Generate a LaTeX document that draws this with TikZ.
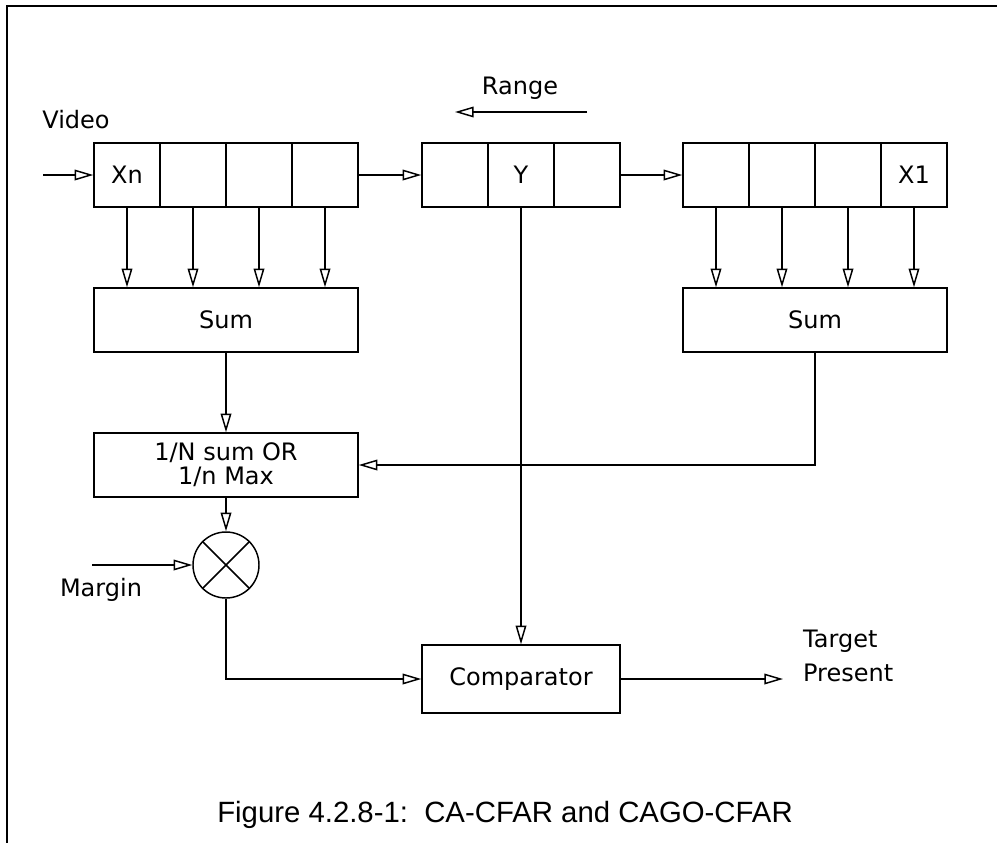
\documentclass[tikz,border=0pt]{standalone}
\usepackage{fontspec}
\setmainfont{DejaVu Sans}
\newfontfamily\capfont{Liberation Sans}
\usetikzlibrary{arrows.meta,positioning}

\begin{document}
\begin{tikzpicture}[
    x=0.75pt, y=-0.75pt,
    font=\fontsize{18}{18}\selectfont,
    line width=1.1pt,
    >={Triangle[open, length=14pt, width=8pt]},
    cell/.style={draw, minimum width=49.5pt, minimum height=48pt, inner sep=0pt},
    block/.style={draw, minimum width=198pt, minimum height=48pt, align=center, inner sep=0pt},
    mixer/.style={circle, draw, minimum size=49.5pt, inner sep=0pt}
]
\useasboundingbox (0,0) rectangle (997,843);
\draw[line width=1.8pt] (7,843) -- (7,6) -- (997,6);

\foreach \i in {1,...,4} \node[cell] (l\i) at ({61+66*\i},175) {};
\foreach \i in {1,2,3} \node[cell] (m\i) at ({389+66*\i},175) {};
\foreach \i in {1,...,4} \node[cell] (r\i) at ({650+66*\i},175) {};
\node (xn) at (l1) {Xn};
\node (y) at (m2) {Y};
\node (x1) at (r4) {X1};

\node[block] (lsum) at (226,320) {Sum};
\node[block] (rsum) at (815,320) {Sum};
\node[block] (norm) at (226,465) {1/N sum OR\\1/n Max};
\node[mixer] (mix) at (226,565) {};
\draw (mix.north west) -- (mix.south east) (mix.north east) -- (mix.south west);
\node[draw, minimum width=148.5pt, minimum height=51pt] (comp) at (521,679) {Comparator};

\coordinate (vin) at (43,175);
\coordinate (marg) at (92,565);
\coordinate (tgt) at (783,679);
\coordinate (rgA) at (587,112);
\coordinate (rgB) at (455,112);

\node (video) at (76,120) {Video};
\node (range) at (520,88) {Range};
\node (margin) at (101,590) {Margin};
\node[anchor=west, align=left, font=\fontsize{18}{26}\selectfont] (target) at (798,656) {Target\\Present};

\draw[->] (vin) -- (l1);
\draw[->] (l4) -- (m1);
\draw[->] (m3) -- (r1);
\draw[->] (rgA) -- (rgB);
\foreach \i in {1,...,4} {
    \draw[->] (l\i.south) -- (l\i.south |- lsum.north);
    \draw[->] (r\i.south) -- (r\i.south |- rsum.north);
}
\draw[->] (lsum) -- (norm);
\draw[->] (rsum.south) |- (norm.east);
\draw[->] (norm) -- (mix);
\draw[->] (marg) -- (mix);
\draw[->] (m2.south) -- (comp.north);
\draw[->] (mix.south) |- (comp.west);
\draw[->] (comp) -- (tgt);

\node[font=\capfont\fontsize{22}{26}\selectfont, anchor=base] (cap) at (505,822) {Figure 4.2.8-1:\ \ CA-CFAR and CAGO-CFAR};
\end{tikzpicture}
\end{document}
